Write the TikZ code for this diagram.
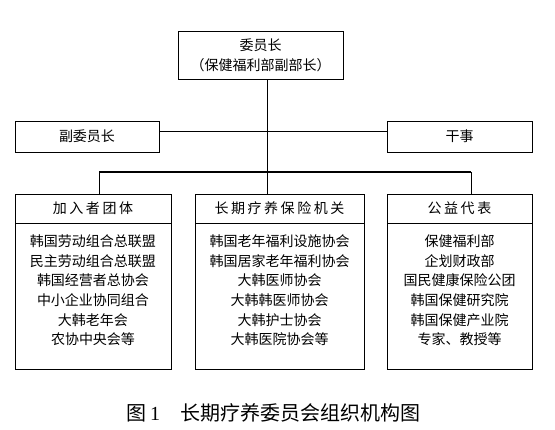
\documentclass[tikz,border=0pt]{standalone}
\usepackage{fontspec}
\setmainfont{Noto Sans CJK SC}
\newfontfamily\headfont[LetterSpace=18]{Noto Sans CJK SC}
\newfontfamily\numfont{Liberation Serif}
\usetikzlibrary{positioning}
\tikzset{
  unit/.style={draw, line width=0.8pt, inner sep=2pt, align=center,
               font=\fontsize{14pt}{20pt}\selectfont},
  head/.style={draw, line width=0.8pt, inner sep=0pt, minimum height=29pt,
               font=\fontsize{14pt}{17pt}\headfont},
  list/.style={draw, line width=0.8pt, inner sep=0pt, minimum height=146pt,
               font=\fontsize{14pt}{19.6pt}\selectfont},
  link/.style={line width=0.9pt},
  bus/.style={line width=1.6pt},
}
\newcommand{\itemlist}[1]{\raisebox{5pt}[\height][\depth]{\begin{tabular}{@{}c@{}}#1\end{tabular}}}

\begin{document}
\begin{tikzpicture}[x=1pt,y=-1pt]
  \useasboundingbox (0,0) rectangle (555,430);
  % top level
  \node[unit,minimum width=165pt,minimum height=48pt] (chair) at (260.5,55) {委员长\\（保健福利部副部长）};
  \node[unit,minimum width=144pt,minimum height=31pt] (vice) at (87,136.5) {副委员长};
  \node[unit,minimum width=145pt,minimum height=31pt] (sec) at (459.5,136.5) {干事};
  % three groups
  \node[head,minimum width=156pt] (lh) at (93,208.5) {加入者团体};
  \node[list,minimum width=156pt,below=0pt of lh] (ll) {\itemlist{韩国劳动组合总联盟\\民主劳动组合总联盟\\韩国经营者总协会\\中小企业协同组合\\大韩老年会\\农协中央会等}};
  \node[head,minimum width=169pt] (mh) at (279.5,208.5) {长期疗养保险机关};
  \node[list,minimum width=169pt,below=0pt of mh] (ml) {\itemlist{韩国老年福利设施协会\\韩国居家老年福利协会\\大韩医师协会\\大韩韩医师协会\\大韩护士协会\\大韩医院协会等}};
  \node[head,minimum width=145pt] (rh) at (459.5,208.5) {公益代表};
  \node[list,minimum width=145pt,below=0pt of rh] (rl) {\itemlist{保健福利部\\企划财政部\\国民健康保险公团\\韩国保健研究院\\韩国保健产业院\\专家、教授等}};
  % connectors
  \coordinate (trunk) at (267,131);
  \coordinate (busL) at (99,172);
  \coordinate (busR) at (471,172);
  \draw[link] (trunk |- chair.south) -- (trunk |- mh.north);
  \draw[link] (vice.east |- trunk) -- (sec.west |- trunk);
  \draw[bus] (busL) -- (busR);
  \draw[link] (busL) -- (busL |- lh.north);
  \draw[link] (busR) -- (busR |- rh.north);
  % caption
  \node[font=\fontsize{20pt}{24pt}\selectfont] (cap) at (273.5,412.5) {图{\numfont\,1}\hspace{1em}长期疗养委员会组织机构图};
\end{tikzpicture}
\end{document}
